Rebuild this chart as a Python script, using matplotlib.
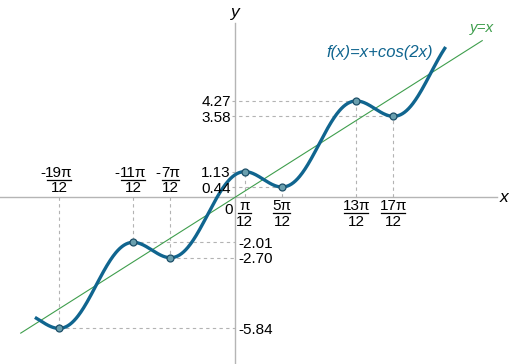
import matplotlib.pyplot as plt
import numpy as np

plt.rcParams['font.family'] = ['Liberation Sans', 'DejaVu Sans']

# extrema of f(x)=x+cos(2x), x in units of pi/12
k_num = [-19, -11, -7, 1, 5, 13, 17]
x_num_labels = ['19π', '11π', '7π', 'π', '5π', '13π', '17π']
y_vals = [-5.84, -2.01, -2.70, 1.13, 0.44, 4.27, 3.58]
y_labels = ['-5.84', '-2.01', '-2.70', '1.13', '0.44', '4.27', '3.58']

x_pts = np.array(k_num) * np.pi / 12

# pixel scale of the reference (px per unit)
sx, sy = 35.5, 22.5
x0px, y0px = 235.5, 197

fig = plt.figure(figsize=(5.1, 3.64), dpi=100)
ax = fig.add_axes([0, 0, 1, 1])
ax.set_xlim(-x0px / sx, (510 - x0px) / sx)
ax.set_ylim(-(364 - y0px) / sy, y0px / sy)
ax.axis('off')

def dx(p):
    return p / sx

def dy(p):
    return p / sy

# axes
axcol = '#b5b5b5'
ax.plot([-x0px / sx, (497 - x0px) / sx], [0, 0], color=axcol, lw=1)
ax.plot([0, 0], [-(364 - y0px) / sy, (y0px - 23) / sy], color=axcol, lw=1)
ax.text(dx(268.5), 0, 'x', style='italic', fontsize=12.5, ha='center', va='center')
ax.text(0, dy(184), 'y', style='italic', fontsize=12.5, ha='center', va='center')

# guide lines
gcol = '#b3b3b3'
for xp, yp in zip(x_pts, y_vals):
    ax.plot([xp, xp], [0, yp], color=gcol, lw=0.8, ls=(0, (3, 3)))
    ax.plot([-dx(3), xp] if xp > 0 else [xp, 0], [yp, yp], color=gcol, lw=0.8, ls=(0, (3, 3)))

# y=x line
xl = np.array([-6.05, 6.95])
ax.plot(xl, xl, color='#3f9e4d', lw=0.8)

# the function
xs = np.linspace(-5.65, 5.92, 600)
ax.plot(xs, xs + np.cos(2 * xs), color='#10658f', lw=2.4, solid_capstyle='butt')
ax.plot(x_pts, y_vals, 'o', ms=5, mfc='#6a9fae', mec='#1d4f68', mew=0.9)

fs = 11
# x tick labels (fractions)
for xp, k, num in zip(x_pts, k_num, x_num_labels):
    w = 6.5 if len(num) == 1 else (8.5 if len(num) == 2 else 12)
    if k < 0:
        yn, yb, yd = dy(20), dy(17.5), dy(4.5)
        ax.text(xp - dx(w + 2), yn, '-', fontsize=fs, ha='right', va='baseline')
    else:
        yn, yb, yd = -dy(13), -dy(15.5), -dy(28.5)
    ax.text(xp, yn, num, fontsize=fs, ha='center', va='baseline')
    ax.plot([xp - dx(w), xp + dx(w)], [yb, yb], color='black', lw=0.9)
    ax.text(xp, yd, '12', fontsize=fs, ha='center', va='baseline')
ax.text(-dx(3), -dy(11), '0', fontsize=fs, ha='right', va='center_baseline')

# y tick labels
for yv, lab in zip(y_vals, y_labels):
    if yv > 0:
        ax.text(-dx(4.5), yv, lab, fontsize=fs, ha='right', va='center_baseline')
    else:
        ax.text(dx(3), yv, lab, fontsize=fs, ha='left', va='center_baseline')

ax.text(dx(380 - x0px), dy(y0px - 52), 'f(x)=x+cos(2x)', style='italic',
        fontsize=12, color='#10658f', ha='center', va='center')
ax.text(dx(482 - x0px), dy(y0px - 28), 'y=x', style='italic',
        fontsize=11, color='#3f9e4d', ha='center', va='center')

fig.savefig('out.png', dpi=100)
